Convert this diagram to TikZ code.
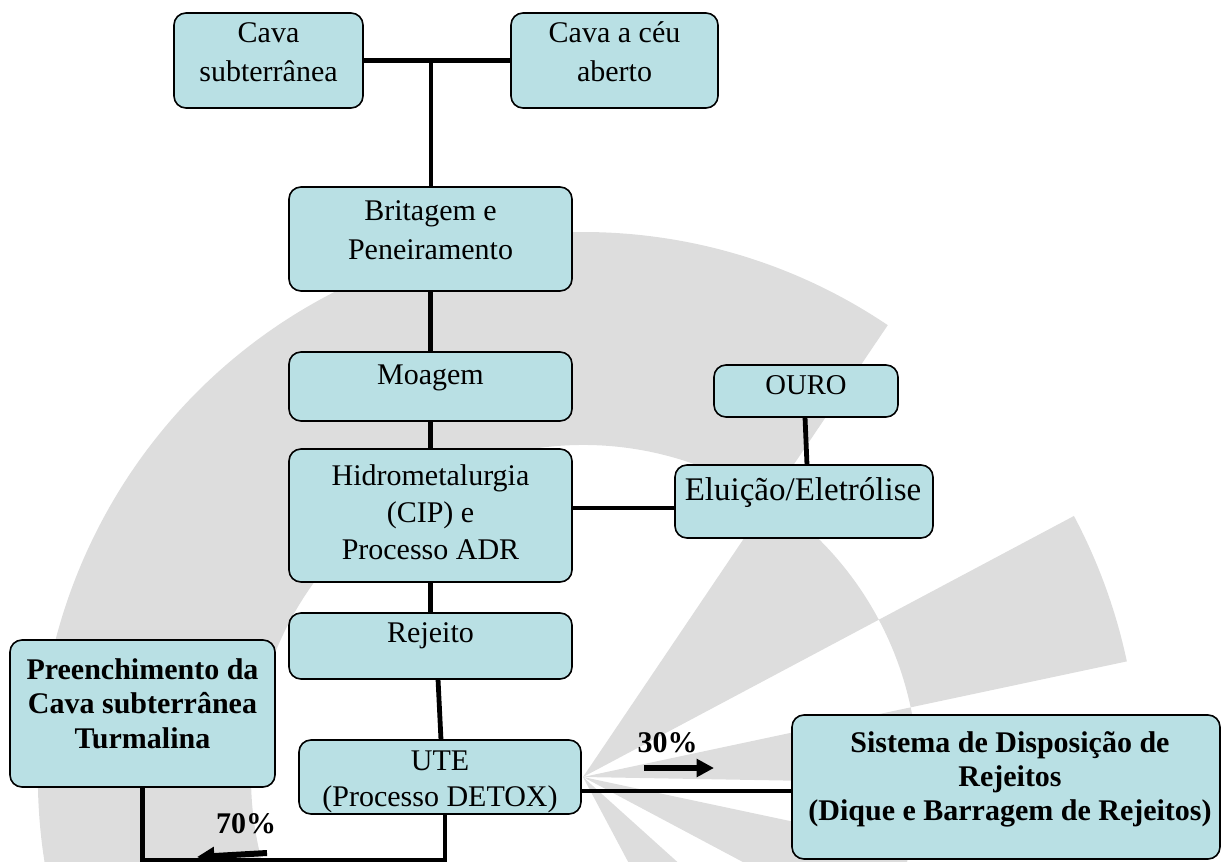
\documentclass[tikz,border=0pt]{standalone}
\usepackage{fontspec}
\setmainfont{Liberation Serif}
\usetikzlibrary{calc,arrows.meta}
\definecolor{boxblue}{RGB}{185,224,228}
\definecolor{wmgray}{RGB}{221,221,221}
\newcommand\mylines[2]{\fontsize{22.5}{#1}\selectfont\begin{tabular}[t]{@{}c@{}}#2\end{tabular}}
\begin{document}
\begin{tikzpicture}[x=0.75pt,y=-0.75pt,
  box/.style={draw=black, line width=1.2pt, fill=boxblue, rounded corners=9pt, inner sep=0pt, outer sep=0pt},
  conn/.style={line width=3.6pt},
  txt/.style={anchor=base, inner sep=0pt, font=\fontsize{22.5}{27}\selectfont},
  btxt/.style={anchor=base, inner sep=0pt, font=\fontsize{22.5}{27}\selectfont\bfseries},
  wm/.style={fill=wmgray},
  flow/.style={line width=4.5pt, -{Triangle[length=13pt,width=13pt]}}]
\useasboundingbox (0,0) rectangle (1223,862);
\clip (0,0) rectangle (1223,862);
% watermark
\begin{scope}[shift={(583,777)}]
  \fill[wm] (-56:332) arc[start angle=-56,end angle=-205,radius=332] -- (-205:545) arc[start angle=-205,end angle=-56,radius=545] -- cycle;
  \fill[wm] (-12:335) arc[start angle=-12,end angle=-28,radius=335] -- (-28:556) arc[start angle=-28,end angle=-12,radius=556] -- cycle;
  \fill[wm] (0,0) -- (-28:335) arc[start angle=-28,end angle=-56,radius=335] -- cycle;
  \fill[wm] (0,0) -- (1:335) arc[start angle=1,end angle=-12,radius=335] -- cycle;
  \fill[wm] (0,0) -- (12:335) arc[start angle=12,end angle=28,radius=335] -- cycle;
  \fill[wm] (0,0) -- (42:335) arc[start angle=42,end angle=62,radius=335] -- cycle;
\end{scope}
% boxes
\node[box, minimum width=141.75pt, minimum height=71.25pt] (cavasub) at (268.5,60.5) {};
\node[box, minimum width=155.25pt, minimum height=71.25pt] (cavaceu) at (614.5,60.5) {};
\node[box, minimum width=212.25pt, minimum height=78pt] (brit) at (430.5,239) {};
\node[box, minimum width=212.25pt, minimum height=51.75pt] (moag) at (430.5,386.5) {};
\node[box, minimum width=138pt, minimum height=39pt] (ouro) at (806,391) {};
\node[box, minimum width=212.25pt, minimum height=99.75pt] (hidro) at (430.5,515.5) {};
\node[box, minimum width=193.5pt, minimum height=54.75pt] (eluic) at (804,501.5) {};
\node[box, minimum width=212.25pt, minimum height=49.5pt] (rejeito) at (430.5,646) {};
\node[box, minimum width=198.75pt, minimum height=110.25pt] (preench) at (142.5,713.5) {};
\node[box, minimum width=211.5pt, minimum height=55.5pt] (ute) at (440,777) {};
\node[box, minimum width=321pt, minimum height=108pt] (sistema) at (1006,787) {};
% texts
\node[txt] (tcavasub) at (268.5,43) {\mylines{29.25pt}{Cava\\subterrânea}};
\node[txt] (tcavaceu) at (614.5,43) {\mylines{29.25pt}{Cava a céu\\aberto}};
\node[txt] (tbrit) at (430.5,221) {\mylines{29.25pt}{Britagem e\\Peneiramento}};
\node[txt] (tmoag) at (430.5,385) {Moagem};
\node[txt, font=\fontsize{21.5}{25}\selectfont] (touro) at (806,395) {OURO};
\node[txt] (thidro) at (430.5,485) {\mylines{28pt}{Hidrometalurgia\\(CIP) e\\Processo ADR}};
\node[txt, font=\fontsize{24.75}{29}\selectfont] (teluic) at (803,500) {Eluição/Eletrólise};
\node[txt] (trejeito) at (430.5,642) {Rejeito};
\node[btxt] (tpreench) at (142.5,679) {\mylines{25.9pt}{Preenchimento da\\Cava subterrânea\\Turmalina}};
\node[txt] (tute) at (440,770) {\mylines{27pt}{UTE\\(Processo DETOX)}};
\node[btxt] (tsistema) at (1010,752) {\mylines{25.5pt}{Sistema de Disposição de\\Rejeitos\\(Dique e Barragem de Rejeitos)}};
\node[btxt] (l30) at (667.5,752) {30\%};
\node[btxt] (l70) at (246,833) {70\%};
% connectors
\coordinate (j1) at (431,60.5);
\draw[conn] (cavasub.east) -- (cavaceu.west);
\draw[conn] (j1) -- (brit.north -| j1);
\draw[conn] (brit.south) -- (moag.north);
\draw[conn] (moag.south) -- (hidro.north);
\draw[conn] (hidro.south) -- (rejeito.north);
\draw[conn] ($(hidro.east)+(0,-7.5)$) -- ($(eluic.west)+(0,6.5)$);
\draw[conn] ($(ouro.south)+(-1,0)$) -- ($(eluic.north)+(3,0)$);
\draw[conn] ($(rejeito.south)+(7.5,0)$) -- ($(ute.north)+(1,0)$);
\draw[conn] ($(ute.east)+(0,14)$) -- ($(sistema.west)+(0,4)$);
\coordinate (b1) at (445,860);
\coordinate (b2) at (142.5,860);
\draw[conn] ($(ute.south)+(5,0)$) -- (b1) -- (b2) -- (preench.south);
% flow arrows
\coordinate (a30s) at (644,768);
\coordinate (a30e) at (714,768);
\draw[flow] (a30s) -- (a30e);
\coordinate (a70s) at (267,853);
\coordinate (a70e) at (197,857);
\draw[flow] (a70s) -- (a70e);
\end{tikzpicture}
\end{document}
